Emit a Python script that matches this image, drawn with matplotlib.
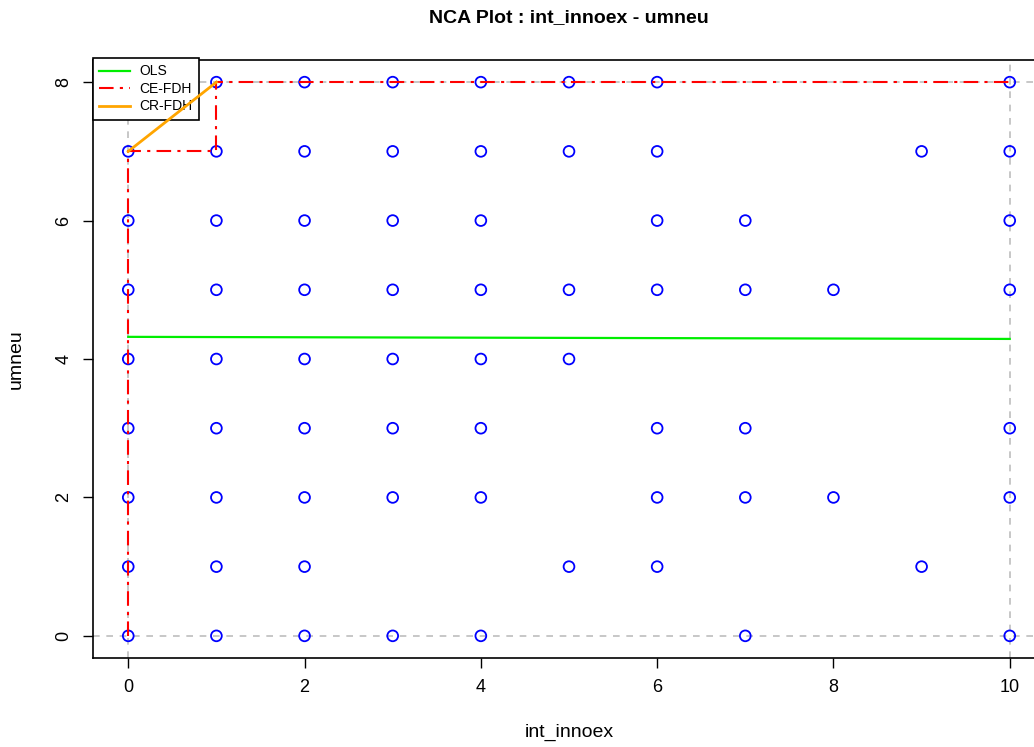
import numpy as np
import matplotlib.pyplot as plt

plt.rcParams['font.family'] = ['Liberation Sans', 'DejaVu Sans']

# observaciones (x = int_innoex, y = umneu), por fila de umneu
rows = {
    8: [1, 2, 3, 4, 5, 6, 10],
    7: [0, 1, 2, 3, 4, 5, 6, 9, 10],
    6: [0, 1, 2, 3, 4, 6, 7, 10],
    5: [0, 1, 2, 3, 4, 5, 6, 7, 8, 10],
    4: [0, 1, 2, 3, 4, 5],
    3: [0, 1, 2, 3, 4, 6, 7, 10],
    2: [0, 1, 2, 3, 4, 6, 7, 8, 10],
    1: [0, 1, 2, 5, 6, 9],
    0: [0, 1, 2, 3, 4, 7, 10],
}
x_pts = [x for y, xs in rows.items() for x in xs]
y_pts = [y for y, xs in rows.items() for x in xs]

# recta OLS
ols_x = [0, 10]
ols_y = [4.32, 4.29]

# techo CE-FDH (escalonado)
ce_x = [0, 0, 1, 1, 10]
ce_y = [0, 7, 7, 8, 8]

# techo CR-FDH
cr_x = [0, 1]
cr_y = [7, 8]

fig = plt.figure(figsize=(10.34, 7.47), dpi=100)
ax = fig.add_axes([93/1034, 1 - 658/747, (1045 - 93)/1034, (658 - 60)/747])

# caja de alcance
ax.axvline(0, color='#BEBEBE', ls=(0, (4, 4)), lw=1.2, zorder=0)
ax.axvline(10, color='#BEBEBE', ls=(0, (4, 4)), lw=1.2, zorder=0)
ax.axhline(0, color='#BEBEBE', ls=(0, (4, 4)), lw=1.2, zorder=0)
ax.axhline(8, color='#BEBEBE', ls=(0, (4, 4)), lw=1.2, zorder=0)

ax.scatter(x_pts, y_pts, s=60, facecolors='none', edgecolors='#0000FF',
           linewidths=1.3, zorder=3)

ax.plot(ols_x, ols_y, color='#00EE00', lw=1.6, label='OLS', zorder=2)
ax.plot(ce_x, ce_y, color='#FF0000', lw=1.5, ls=(0, (7, 3, 1.5, 3)),
        label='CE-FDH', zorder=6)
ax.plot(cr_x, cr_y, color='#FFA500', lw=2, label='CR-FDH', zorder=6)

ax.set_xlim(-0.4, 10.4)
ax.set_ylim(-0.32, 8.32)
ax.set_xticks([0, 2, 4, 6, 8, 10])
ax.set_yticks([0, 2, 4, 6, 8])
for lab in ax.get_yticklabels():
    lab.set_rotation(90)
    lab.set_va('center')
ax.tick_params(labelsize=13, length=7, width=1, pad=8)
for sp in ax.spines.values():
    sp.set_linewidth(1.2)

ax.set_xlabel('int_innoex', fontsize=14, labelpad=20)
ax.set_ylabel('umneu', fontsize=14, labelpad=22)
fig.text((93 + 1045) / 2 / 1034, 1 - 18/747, 'NCA Plot : int_innoex - umneu',
         ha='center', va='center', fontsize=14, fontweight='bold')

leg = ax.legend(loc='upper left', bbox_to_anchor=(0, 1.003), fontsize=10,
                frameon=True, fancybox=False, edgecolor='black',
                borderpad=0.45, handlelength=2.2, handletextpad=0.7,
                labelspacing=0.25, borderaxespad=0, framealpha=1)
leg.get_frame().set_linewidth(1.2)
leg.set_zorder(5)

fig.savefig('out.png', dpi=100)
